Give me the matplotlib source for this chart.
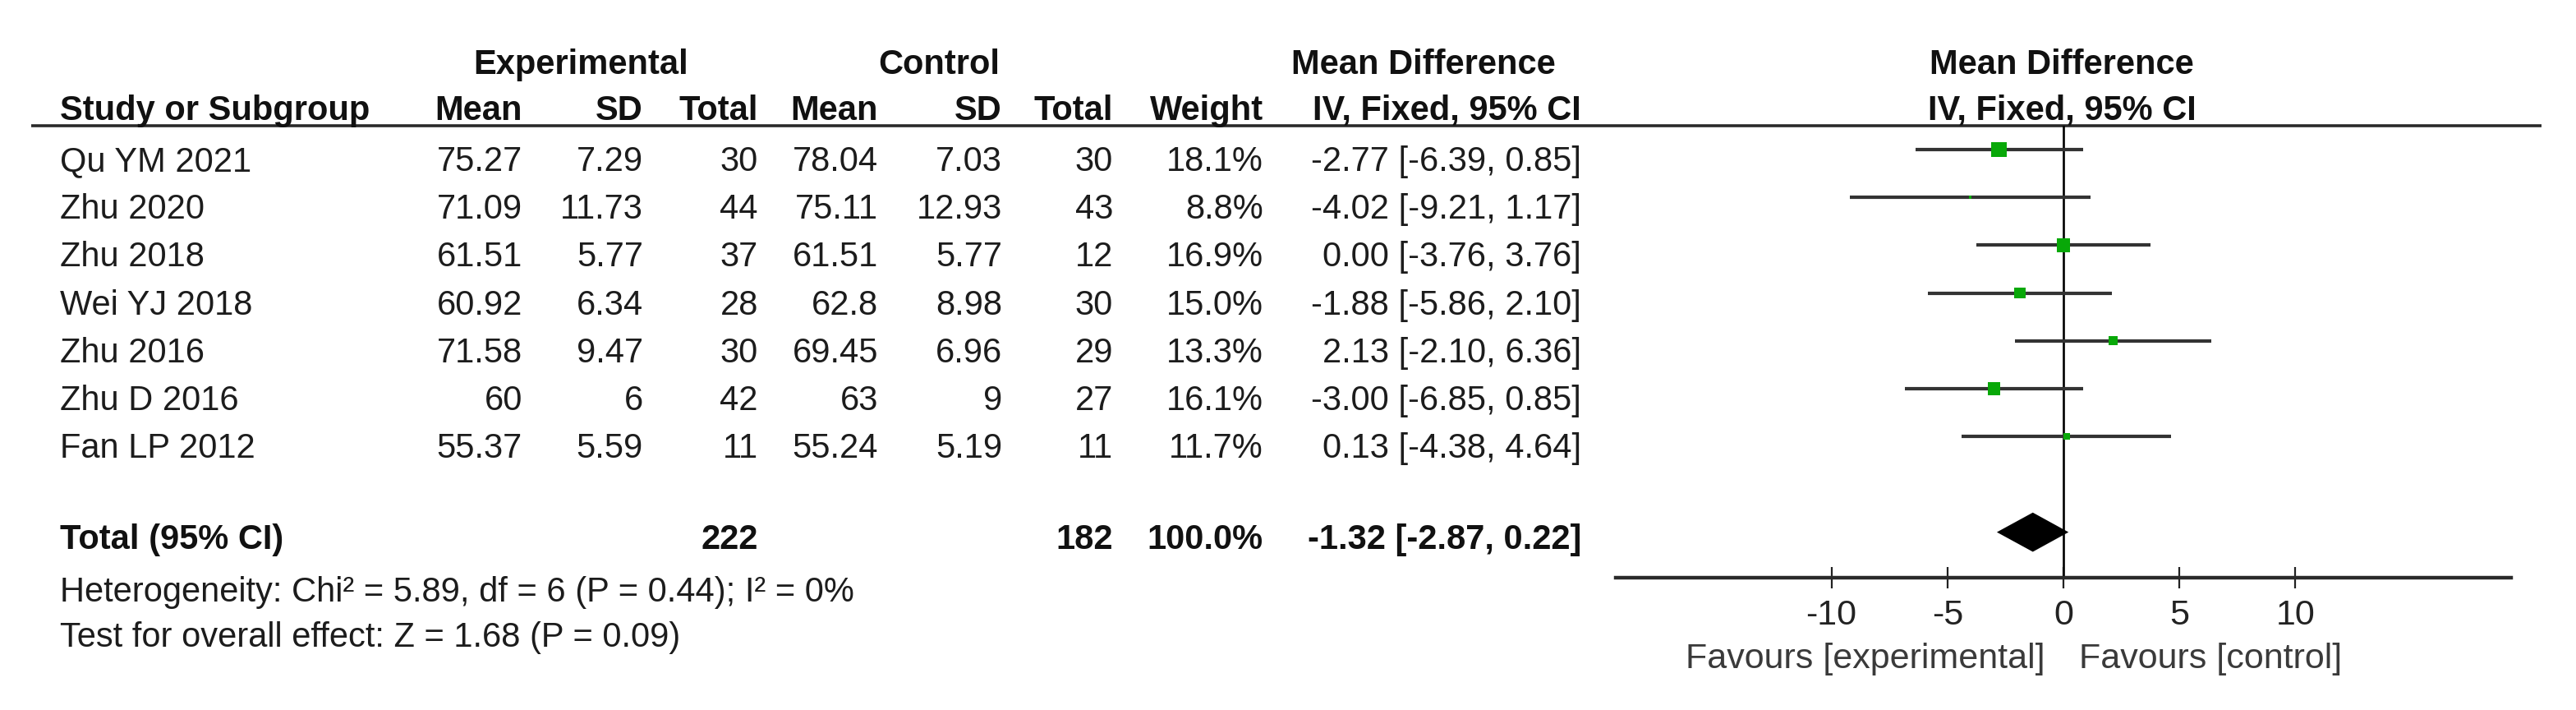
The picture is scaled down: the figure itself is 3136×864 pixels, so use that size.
import matplotlib
matplotlib.use("Agg")
import matplotlib.pyplot as plt
import matplotlib.transforms as mtransforms

plt.rcParams['font.family'] = ['Liberation Sans', 'DejaVu Sans']
plt.rcParams['axes.unicode_minus'] = False

# ---------------- data ----------------
studies = ["Qu YM 2021", "Zhu 2020", "Zhu 2018", "Wei YJ 2018", "Zhu 2016", "Zhu D 2016", "Fan LP 2012"]
exp_mean = [75.27, 71.09, 61.51, 60.92, 71.58, 60, 55.37]
exp_sd = [7.29, 11.73, 5.77, 6.34, 9.47, 6, 5.59]
exp_n = [30, 44, 37, 28, 30, 42, 11]
ctl_mean = [78.04, 75.11, 61.51, 62.8, 69.45, 63, 55.24]
ctl_sd = [7.03, 12.93, 5.77, 8.98, 6.96, 9, 5.19]
ctl_n = [30, 43, 12, 30, 29, 27, 11]
weights = [18.1, 8.8, 16.9, 15.0, 13.3, 16.1, 11.7]
md = [-2.77, -4.02, 0.00, -1.88, 2.13, -3.00, 0.13]
ci_lo = [-6.39, -9.21, -3.76, -5.86, -2.10, -6.85, -4.38]
ci_hi = [0.85, 1.17, 3.76, 2.10, 6.36, 0.85, 4.64]

total_exp_n = 222
total_ctl_n = 182
total_weight = 100.0
total_md = -1.32
total_lo = -2.87
total_hi = 0.22
het_chi2 = 5.89
het_df = 6
het_p = 0.44
het_i2 = 0
z_value = 1.68
z_p = 0.09

x_ticks = [-10, -5, 0, 5, 10]
x_tick_labels = ["-10", "-5", "0", "5", "10"]
favours_left = "Favours [experimental]"
favours_right = "Favours [control]"

# ---------------- figure ----------------
W, H = 3136, 864
fig = plt.figure(figsize=(W / 100, H / 100), dpi=100)
fig.patch.set_facecolor('white')

# table axes in pixel layout coordinates
ax_t = fig.add_axes([0, 0, 1, 1])
ax_t.set_xlim(0, W)
ax_t.set_ylim(H, 0)
ax_t.axis('off')

FS = 30
txt_col = '#1c1c1c'
hdr_col = '#111111'

# header row 1
hy1 = 90
ax_t.text(707, hy1, "Experimental", ha='center', va='baseline', fontsize=FS, fontweight='bold', color=hdr_col)
ax_t.text(1143, hy1, "Control", ha='center', va='baseline', fontsize=FS, fontweight='bold', color=hdr_col)
ax_t.text(1733, hy1, "Mean Difference", ha='center', va='baseline', fontsize=FS, fontweight='bold', color=hdr_col)
ax_t.text(2510, hy1, "Mean Difference", ha='center', va='baseline', fontsize=FS, fontweight='bold', color=hdr_col)

# header row 2
hy2 = 146
col_right = {'em': 636, 'esd': 783, 'en': 923, 'cm': 1069, 'csd': 1220, 'cn': 1355, 'w': 1538, 'ci': 1925}
ax_t.text(73, hy2, "Study or Subgroup", ha='left', va='baseline', fontsize=FS, fontweight='bold', color=hdr_col)
for key, lab in [('em', 'Mean'), ('esd', 'SD'), ('en', 'Total'), ('cm', 'Mean'),
                 ('csd', 'SD'), ('cn', 'Total'), ('w', 'Weight'), ('ci', 'IV, Fixed, 95% CI')]:
    ax_t.text(col_right[key], hy2, lab, ha='right', va='baseline', fontsize=FS, fontweight='bold', color=hdr_col)
ax_t.text(2510, hy2, "IV, Fixed, 95% CI", ha='center', va='baseline', fontsize=FS, fontweight='bold', color=hdr_col)

# header rule
ax_t.plot([38, 3094], [153, 153], color='#2a2a2a', lw=2.6, solid_capstyle='butt')

# study rows
def fmt(v):
    return f"{v:g}"

for i, name in enumerate(studies):
    yb = 208 + 58.2 * i
    ax_t.text(73, yb, name, ha='left', va='baseline', fontsize=FS, color=txt_col)
    vals = [('em', fmt(exp_mean[i])), ('esd', fmt(exp_sd[i])), ('en', str(exp_n[i])),
            ('cm', fmt(ctl_mean[i])), ('csd', fmt(ctl_sd[i])), ('cn', str(ctl_n[i])),
            ('w', f"{weights[i]:.1f}%"),
            ('ci', f"{md[i]:.2f} [{ci_lo[i]:.2f}, {ci_hi[i]:.2f}]")]
    for key, s in vals:
        ax_t.text(col_right[key], yb, s, ha='right', va='baseline', fontsize=FS, color=txt_col)

# total row
ty = 668
ax_t.text(73, ty, "Total (95% CI)", ha='left', va='baseline', fontsize=FS, fontweight='bold', color=hdr_col)
ax_t.text(col_right['en'], ty, str(total_exp_n), ha='right', va='baseline', fontsize=FS, fontweight='bold', color=hdr_col)
ax_t.text(col_right['cn'], ty, str(total_ctl_n), ha='right', va='baseline', fontsize=FS, fontweight='bold', color=hdr_col)
ax_t.text(col_right['w'], ty, f"{total_weight:.1f}%", ha='right', va='baseline', fontsize=FS, fontweight='bold', color=hdr_col)
ax_t.text(col_right['ci'], ty, f"{total_md:.2f} [{total_lo:.2f}, {total_hi:.2f}]", ha='right', va='baseline',
          fontsize=FS, fontweight='bold', color=hdr_col)

ax_t.text(73, 732, f"Heterogeneity: Chi² = {het_chi2:.2f}, df = {het_df} (P = {het_p:.2f}); I² = {het_i2}%",
          ha='left', va='baseline', fontsize=FS, color=txt_col)
ax_t.text(73, 787, f"Test for overall effect: Z = {z_value:.2f} (P = {z_p:.2f})",
          ha='left', va='baseline', fontsize=FS, color=txt_col)

# ---------------- forest axes ----------------
x0_px, x1_px = 1967, 3057
top_px, bot_px = 153, 703
ax_f = fig.add_axes([x0_px / W, (H - bot_px) / H, (x1_px - x0_px) / W, (bot_px - top_px) / H])
ax_f.set_facecolor('none')
row0_px, row_step = 182, 58.2
ax_f.set_xlim(-19.3, 19.3)
ax_f.set_ylim((bot_px - row0_px) / row_step, (top_px - row0_px) / row_step)
for sp in ['top', 'left', 'right']:
    ax_f.spines[sp].set_visible(False)
ax_f.spines['bottom'].set_linewidth(3.2)
ax_f.spines['bottom'].set_color('#2a2a2a')
ax_f.set_yticks([])
ax_f.set_xticks(x_ticks)
ax_f.set_xticklabels(x_tick_labels)
ax_f.tick_params(axis='x', direction='inout', length=19, width=1.6, color='#222222',
                 labelsize=31, labelcolor='#222222', pad=9)

rows = list(range(len(studies)))
ax_f.axvline(0, color='black', lw=1.9, zorder=2)
ax_f.hlines(rows, ci_lo, ci_hi, color='#333333', lw=3.0, zorder=3)
sizes = [(max(1.6 * (w - 6.5), 2.0) * 0.72) ** 2 for w in weights]
ax_f.scatter(md, rows, marker='s', s=sizes, color='#08a808', edgecolors='none', zorder=4)

total_row = len(studies) + 1
dh = 0.41
ax_f.fill([total_lo, total_md, total_hi, total_md],
          [total_row, total_row - dh, total_row, total_row + dh],
          color='black', zorder=4, lw=0)

# favours labels
ax_t.text(2490, 813, favours_left, ha='right', va='baseline', fontsize=31, color='#3a3a3a')
ax_t.text(2531, 813, favours_right, ha='left', va='baseline', fontsize=31, color='#3a3a3a')

fig.savefig("out.png", dpi=100, facecolor='white')
